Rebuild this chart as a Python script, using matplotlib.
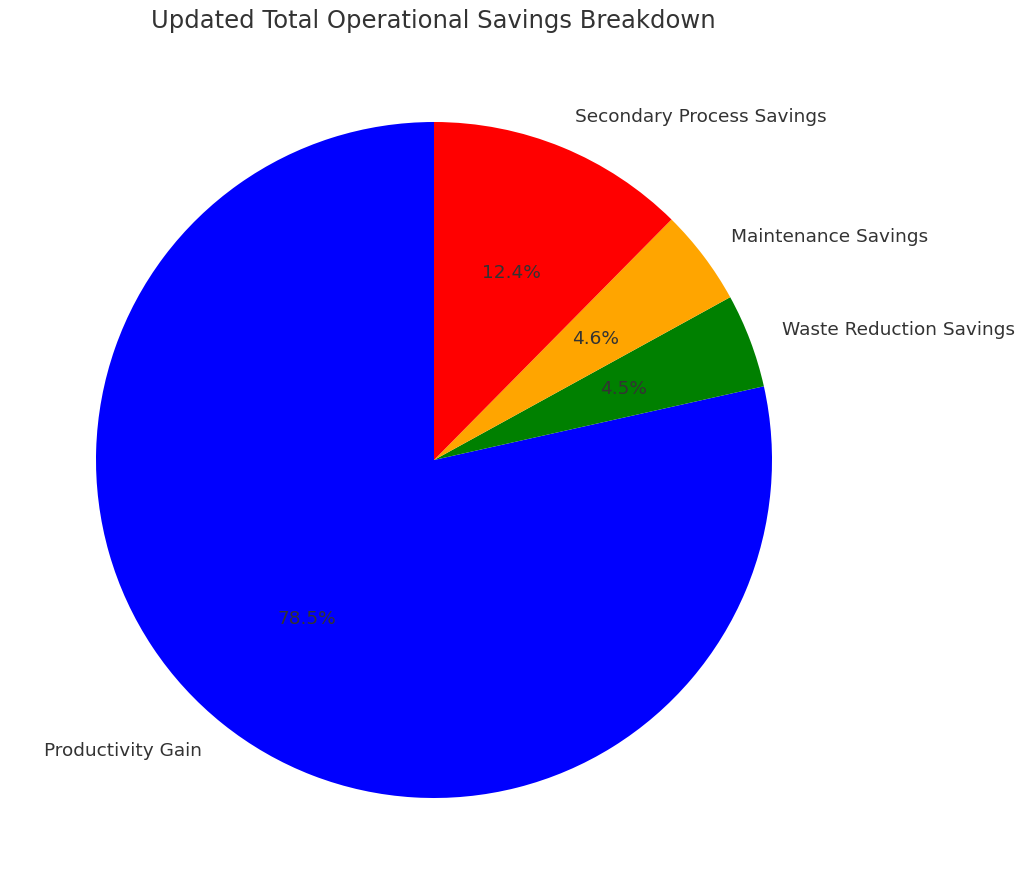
import matplotlib.pyplot as plt

labels = ['Productivity Gain', 'Waste Reduction Savings', 'Maintenance Savings', 'Secondary Process Savings']
shares = [78.5, 4.5, 4.6, 12.4]
colors = ['blue', 'green', 'orange', 'red']

plt.rcParams['font.family'] = ['DejaVu Sans']
plt.rcParams['text.color'] = '#333333'

fig = plt.figure(figsize=(10.24, 8.95), dpi=100)
# pie axes placed so the circle sits where it does in the original
ax = fig.add_axes([11.5 / 1024, 11.5 / 895, 845 / 1024, 845 / 895])

ax.pie(shares, labels=labels, colors=colors, autopct='%1.1f%%', startangle=90,
       textprops={'fontsize': 13.3, 'color': '#333333'})
ax.set_aspect('equal')

fig.text(433.5 / 1024, 1 - 21 / 895, 'Updated Total Operational Savings Breakdown',
         ha='center', va='center', fontsize=17.5, color='#333333')

fig.savefig('out.png', dpi=100)
